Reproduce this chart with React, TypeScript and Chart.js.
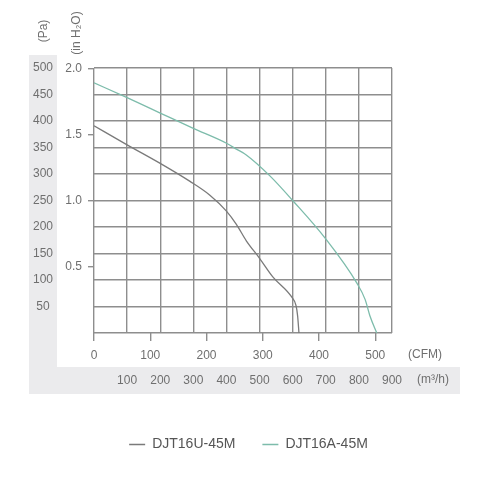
import React, { useEffect, useRef } from 'react';
import { Chart, registerables } from 'chart.js';

Chart.register(...registerables);

// unit conversions
const M3H_PER_CFM = 1.69901;
const PA_PER_INH2O = 249.089;

// series names
const seriesNames = ['DJT16U-45M', 'DJT16A-45M'];

// DJT16U-45M : airflow (m³/h) and static pressure (Pa)
const u45Flow = [0, 100, 200, 290, 350, 400, 430, 460, 500, 540, 597, 610, 615, 619];
const u45Pressure = [391, 355, 320, 286, 260, 230, 205, 174, 141, 106, 68, 52, 32, 0];

// DJT16A-45M : airflow (m³/h) and static pressure (Pa)
const a45Flow = [0, 100, 200, 300, 400, 430, 460, 532, 600, 698, 794, 819, 834, 854];
const a45Pressure = [472, 444, 415, 386, 358, 347, 336, 296, 250, 179, 94, 63, 31, 0];

// tick labels
const cfmTicks = [0, 100, 200, 300, 400, 500];
const inH2OTicks = [0.5, 1.0, 1.5, 2.0];

const GRID = '#8e8e8e';
const TEXT = '#6f6f6f';
const BAND = '#ebebed';
const FONT = "'Liberation Sans', Arial, sans-serif";

const decor = {
  id: 'decor',
  beforeDraw(chart: any) {
    const { ctx, chartArea, scales } = chart;
    const y = scales.y;
    const x = scales.x;
    ctx.save();
    ctx.fillStyle = BAND;
    ctx.fillRect(y.left, chartArea.top - 13, y.right - y.left, x.top + 27 - (chartArea.top - 13));
    ctx.fillRect(y.left, x.top, chartArea.right + 68 - y.left, 27);
    ctx.restore();
  },
  afterDraw(chart: any) {
    const { ctx, chartArea, scales } = chart;
    const x = scales.x;
    const xc = scales.xCfm;
    ctx.save();
    ctx.fillStyle = TEXT;
    ctx.font = `12px ${FONT}`;
    ctx.textAlign = 'center';
    ctx.textBaseline = 'middle';
    ctx.fillText('(CFM)', chartArea.right + 33, xc.top + 22);
    ctx.fillText('(m³/h)', chartArea.right + 41, x.top + 13);
    ctx.translate(44, chartArea.top - 37);
    ctx.rotate(-Math.PI / 2);
    ctx.fillText('(Pa)', 0, 0);
    ctx.restore();
    ctx.save();
    ctx.fillStyle = TEXT;
    ctx.font = `12px ${FONT}`;
    ctx.textAlign = 'center';
    ctx.textBaseline = 'middle';
    ctx.translate(77, chartArea.top - 35);
    ctx.rotate(-Math.PI / 2);
    ctx.fillText('(in H₂O)', 0, 0);
    ctx.restore();
  },
};

export default function App() {
  const ref = useRef<HTMLCanvasElement | null>(null);

  useEffect(() => {
    if (!ref.current) return;
    const font = { family: FONT, size: 12 };
    const chart = new Chart(ref.current, {
      type: 'line',
      data: {
        datasets: [
          {
            label: seriesNames[0],
            data: u45Flow.map((v, i) => ({ x: v, y: u45Pressure[i] })),
            borderColor: '#7a7a7a',
            backgroundColor: '#7a7a7a',
            borderWidth: 1.3,
            pointRadius: 0,
            cubicInterpolationMode: 'monotone',
            xAxisID: 'x',
            yAxisID: 'y',
          },
          {
            label: seriesNames[1],
            data: a45Flow.map((v, i) => ({ x: v, y: a45Pressure[i] })),
            borderColor: '#7dbcab',
            backgroundColor: '#7dbcab',
            borderWidth: 1.3,
            pointRadius: 0,
            cubicInterpolationMode: 'monotone',
            xAxisID: 'x',
            yAxisID: 'y',
          },
        ],
      },
      options: {
        animation: false,
        responsive: true,
        maintainAspectRatio: false,
        layout: { padding: { left: 29, top: 68, right: 34, bottom: 22.5 } },
        plugins: {
          tooltip: { enabled: false },
          legend: {
            display: true,
            position: 'bottom',
            labels: {
              usePointStyle: true,
              pointStyle: 'line',
              pointStyleWidth: 16,
              padding: 27,
              color: '#555',
              font: { family: FONT, size: 14 },
            },
          },
        },
        scales: {
          x: {
            type: 'linear',
            position: 'bottom',
            min: 0,
            max: 900,
            weight: 2,
            afterFit: (s: any) => { s.height = 43.5; },
            grid: { color: GRID, lineWidth: 1.4, drawTicks: false },
            border: { display: false },
            ticks: {
              stepSize: 100,
              autoSkip: false,
              maxRotation: 0,
              padding: 6,
              color: TEXT,
              font,
              callback: (v: any) => (v === 0 ? '' : String(v)),
            },
          },
          xCfm: {
            type: 'linear',
            position: 'bottom',
            min: 0,
            max: 900 / M3H_PER_CFM,
            weight: 1,
            afterFit: (s: any) => { s.height = 34; },
            afterBuildTicks: (s: any) => { s.ticks = cfmTicks.map((v) => ({ value: v })); },
            grid: { drawOnChartArea: false, drawTicks: true, tickLength: 8, color: GRID, lineWidth: 1.4 },
            border: { display: false },
            ticks: { autoSkip: false, maxRotation: 0, padding: 7, color: TEXT, font, callback: (v: any) => String(v) },
          },
          y: {
            type: 'linear',
            position: 'left',
            min: 0,
            max: 500,
            weight: 2,
            afterFit: (s: any) => { s.width = 28; },
            grid: { color: GRID, lineWidth: 1.4, drawTicks: false },
            border: { display: false },
            ticks: {
              stepSize: 50,
              autoSkip: false,
              crossAlign: 'center',
              padding: 4,
              color: TEXT,
              font,
              callback: (v: any) => (v === 0 ? '' : String(v)),
            },
          },
          yIn: {
            type: 'linear',
            position: 'left',
            min: 0,
            max: 500 / PA_PER_INH2O,
            weight: 1,
            afterFit: (s: any) => { s.width = 37; },
            afterBuildTicks: (s: any) => { s.ticks = inH2OTicks.map((v) => ({ value: v })); },
            grid: { drawOnChartArea: false, drawTicks: true, tickLength: 6, color: GRID, lineWidth: 1.4 },
            border: { display: false },
            ticks: { autoSkip: false, padding: 6, color: TEXT, font, callback: (v: any) => Number(v).toFixed(1) },
          },
          ySpacer: {
            type: 'linear',
            position: 'right',
            min: 0,
            max: 1,
            afterFit: (s: any) => { s.width = 76; },
            grid: { display: false, drawTicks: false },
            border: { display: false },
            ticks: { display: false },
          },
        },
      } as any,
      plugins: [decor],
    });
    return () => chart.destroy();
  }, []);

  return (
    <div style={{ position: 'fixed', left: 0, top: 0, width: 502, height: 484, background: '#fff' }}>
      <canvas ref={ref} />
    </div>
  );
}
